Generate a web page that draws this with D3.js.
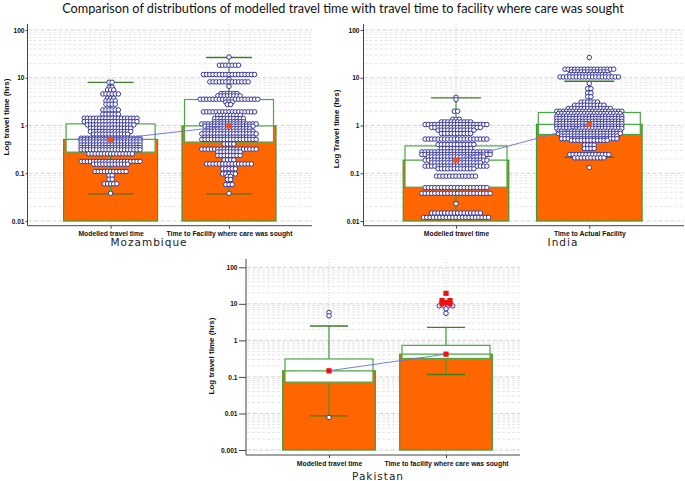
<!DOCTYPE html>
<html><head><meta charset="utf-8">
<script src="https://cdn.jsdelivr.net/npm/d3@7"></script>
<style>body{margin:0;background:#fff}svg{display:block}</style>
</head><body><svg id="c" width="685" height="481"></svg>
<script>
// ---------------- DATA ----------------
const chartTitle = "Comparison of distributions of modelled travel time with travel time to facility where care was sought";
const panelNames = ["Mozambique", "India", "Pakistan"];
const yAxisLabels = ["Log travel time (hrs)", "Log Travel time (hrs)", "Log travel time (hrs)"];

const mozCategories = ["Modelled travel time", "Time to Facility where care was sought"];
const indiaCategories = ["Modelled travel time", "Time to Actual Facility"];
const pakCategories = ["Modelled travel time", "Time to facility where care was sought"];

const mozTicks = [0.01, 0.1, 1, 10, 100];
const mozTickLabels = ["0.01", "0.1", "1", "10", "100"];
const indiaTicks = [0.01, 0.1, 1, 10, 100];
const indiaTickLabels = ["0.01", "0.1", "1", "10", "100"];
const pakTicks = [0.001, 0.01, 0.1, 1, 10, 100];
const pakTickLabels = ["0.001", "0.01", "0.1", "1", "10", "100"];

// summary statistics per category (hrs)
const mozMean = [0.51, 0.98];
const mozQ1 = [0.277, 0.45];
const mozQ3 = [1.08, 3.5];
const mozWhiskerLow = [0.037, 0.037];
const mozWhiskerHigh = [8.0, 26.5];

const indiaMean = [0.188, 1.06];
const indiaQ1 = [0.051, 0.65];
const indiaQ3 = [0.374, 1.87];
const indiaWhiskerLow = [0.0117, 0.217];
const indiaWhiskerHigh = [3.78, 8.45];

const pakMean = [0.147, 0.42];
const pakQ1 = [0.072, 0.32];
const pakQ3 = [0.31, 0.73];
const pakWhiskerLow = [0.0086, 0.117];
const pakWhiskerHigh = [2.47, 2.27];

// individual observations: [value (hrs), number of dots at that level]
const mozModelledDots = [[8.05,2],[6.3,2],[5.56,3],[4.58,6],[3.72,3],[3.27,4],[2.79,4],[2.12,6],[1.72,6],[1.42,18],[1.21,18],[1.03,16],[0.878,14],[0.749,14],[0.658,12],[0.542,20],[0.50,20],[0.45,20],[0.39,20],[0.345,20],[0.31,20],[0.255,15],[0.177,20],[0.155,12],[0.109,11],[0.09,2],[0.075,2],[0.06,5],[0.038,1]];
const mozActualDots = [[27.2,1],[18.3,7],[11.7,17],[9.3,1],[8.2,13],[6.6,1],[4.67,6],[4.17,8],[3.55,19],[3.1,3],[2.75,2],[1.93,17],[1.64,8],[1.40,10],[1.2,10],[1.08,18],[0.97,16],[0.86,14],[0.76,16],[0.67,18],[0.57,16],[0.51,18],[0.41,4],[0.32,18],[0.28,8],[0.235,8],[0.19,4],[0.157,15],[0.124,5],[0.097,5],[0.086,2],[0.074,2],[0.058,3],[0.038,1]];
const indiaModelledDots = [[3.9,1],[3.5,1],[1.99,2],[1.35,3],[1.19,10],[1.05,20],[0.91,16],[0.80,12],[0.68,10],[0.52,20],[0.40,12],[0.33,10],[0.28,22],[0.247,22],[0.22,18],[0.188,20],[0.165,16],[0.141,20],[0.124,12],[0.087,13],[0.05,20],[0.038,22],[0.023,1],[0.0147,16],[0.0119,21]];
const indiaActualDots = [[26.5,1],[15.1,16],[13.2,12],[11.7,13],[10.4,19],[7.6,1],[5.9,2],[4.8,2],[4.0,2],[3.1,6],[2.66,10],[2.27,14],[1.99,21],[1.78,20],[1.57,21],[1.40,21],[1.23,21],[1.10,21],[0.97,21],[0.87,21],[0.76,20],[0.68,20],[0.60,18],[0.53,18],[0.49,12],[0.39,4],[0.33,4],[0.247,13],[0.21,10],[0.132,1]];
const pakModelledOutliers = [[5.8,1],[4.7,1],[0.0078,1]];
const pakActualOutliers = [[8.8,4],[7.3,1],[5.5,1]];
const pakActualFarOutliers = [[19.4,1],[12.3,2],[10.9,1],[10.0,2]];

// ---------------- DRAWING ----------------
const svg = d3.select("#c");
const ORANGE = "#ff6600", GREEN = "#3f9a35", BOXGREEN = "#4aa843", CAPGREEN = "#3a7f22";
const DOT_STROKE = "#34349c";
const SANS = "'Liberation Sans', Arial, sans-serif";

function fitTitle() {
  const t = svg.append("text").attr("x", 343).attr("y", 12.5).attr("text-anchor", "middle")
    .attr("font-family", "Lato, 'Open Sans', sans-serif").attr("font-size", 13).attr("fill", "#111").text(chartTitle);
  const w = t.node().getComputedTextLength();
  t.attr("font-size", 13 * 562 / w);
}
fitTitle();

function drawPanel(p) {
  const y = d3.scaleLog().domain(p.domain).range(p.yRange);
  const x = d3.scalePoint().domain(p.categories).range(p.xRange);
  const g = svg.append("g");

  // horizontal grid lines (major + minor log levels)
  const grid = [];
  const e0 = Math.round(Math.log10(p.domain[0])), e1 = Math.round(Math.log10(p.domain[1]));
  for (let e = e0; e <= e1; e++) for (let m = 1; m <= 9; m++) {
    const v = m * Math.pow(10, e);
    if (v <= p.domain[1] * 1.0001) grid.push({ v, major: m === 1 });
  }
  g.selectAll("line.grid").data(grid).join("line")
    .attr("x1", p.x0 + 1).attr("x2", p.x1)
    .attr("y1", d => y(d.v)).attr("y2", d => y(d.v))
    .attr("stroke", d => d.major ? "#c8c8c8" : "#e0e0e0")
    .attr("stroke-width", 0.8)
    .attr("stroke-dasharray", d => d.major ? "4,2" : "3,2");
  // vertical dotted lines at categories
  g.selectAll("line.vgrid").data(p.categories).join("line")
    .attr("x1", d => x(d)).attr("x2", d => x(d))
    .attr("y1", p.yTop).attr("y2", p.xAxisY)
    .attr("stroke", "#c8c8c8").attr("stroke-width", 0.8).attr("stroke-dasharray", "1,2");

  const idx = p.categories.map((c, i) => i);
  const bottom = y(p.domain[0]);
  // bars (mean)
  g.selectAll("rect.bar").data(idx).join("rect")
    .attr("x", i => x(p.categories[i]) - p.barW / 2).attr("width", p.barW)
    .attr("y", i => y(p.mean[i])).attr("height", i => bottom - y(p.mean[i]))
    .attr("fill", ORANGE).attr("stroke", GREEN).attr("stroke-width", 1.2);
  // whiskers
  g.selectAll("line.wu").data(idx).join("line")
    .attr("x1", i => x(p.categories[i])).attr("x2", i => x(p.categories[i]))
    .attr("y1", i => y(p.q3[i])).attr("y2", i => y(p.hi[i]))
    .attr("stroke", GREEN).attr("stroke-width", 1.2);
  g.selectAll("line.wl").data(idx).join("line")
    .attr("x1", i => x(p.categories[i])).attr("x2", i => x(p.categories[i]))
    .attr("y1", i => y(p.q1[i])).attr("y2", i => y(p.lo[i]))
    .attr("stroke", GREEN).attr("stroke-width", 1.2);
  // boxes
  g.selectAll("rect.box").data(idx).join("rect")
    .attr("x", i => x(p.categories[i]) - p.boxW / 2).attr("width", p.boxW)
    .attr("y", i => y(p.q3[i])).attr("height", i => y(p.q1[i]) - y(p.q3[i]))
    .attr("fill", "#fff").attr("stroke", BOXGREEN).attr("stroke-width", 1.2);
  g.selectAll("line.mid").data(idx).join("line")
    .attr("x1", i => x(p.categories[i]) - p.boxW / 2).attr("x2", i => x(p.categories[i]) + p.boxW / 2)
    .attr("y1", i => y(p.mean[i])).attr("y2", i => y(p.mean[i]))
    .attr("stroke", BOXGREEN).attr("stroke-width", 1.2);
  // caps
  ["hi", "lo"].forEach(k => {
    g.selectAll("line.cap" + k).data(idx).join("line")
      .attr("x1", i => x(p.categories[i]) - p.capW / 2).attr("x2", i => x(p.categories[i]) + p.capW / 2)
      .attr("y1", i => y(p[k][i])).attr("y2", i => y(p[k][i]))
      .attr("stroke", CAPGREEN).attr("stroke-width", 1.4);
  });

  // dots
  const dots = [];
  p.dotSets.forEach(ds => {
    const cx = x(p.categories[ds.cat]);
    ds.rows.forEach(([v, n]) => {
      for (let k = 0; k < n; k++) dots.push({ x: cx + (k - (n - 1) / 2) * ds.sp, v, shape: ds.shape });
    });
  });
  g.selectAll("circle.dot").data(dots.filter(d => d.shape === "circle")).join("circle")
    .attr("cx", d => d.x).attr("cy", d => y(d.v)).attr("r", 2.25)
    .attr("fill", "#fff").attr("stroke", DOT_STROKE).attr("stroke-width", 1);

  // mean line
  g.append("line")
    .attr("x1", x(p.categories[0])).attr("y1", y(p.mean[0]))
    .attr("x2", x(p.categories[1])).attr("y2", y(p.mean[1]))
    .attr("stroke", "#6d6dd8").attr("stroke-width", 0.9);
  // far outliers (squares)
  g.selectAll("rect.far").data(dots.filter(d => d.shape === "square")).join("rect")
    .attr("x", d => d.x - 2.6).attr("y", d => y(d.v) - 2.6).attr("width", 5.2).attr("height", 5.2)
    .attr("fill", "#f01010");
  // mean markers
  g.selectAll("rect.meanpt").data(idx).join("rect")
    .attr("x", i => x(p.categories[i]) - 2.6).attr("y", i => y(p.mean[i]) - 2.6)
    .attr("width", 5.2).attr("height", 5.2).attr("fill", p.meanColor);

  // axes
  g.append("line").attr("x1", p.x0).attr("x2", p.x0).attr("y1", p.yTop).attr("y2", p.xAxisY)
    .attr("stroke", "#444").attr("stroke-width", 1);
  g.append("line").attr("x1", p.x0).attr("x2", p.x1).attr("y1", p.xAxisY).attr("y2", p.xAxisY)
    .attr("stroke", "#444").attr("stroke-width", 1);
  const ya = d3.axisLeft(y).tickValues(p.ticks).tickFormat((d, i) => p.tickLabels[i])
    .tickSize(p.tickLen).tickPadding(p.tickPad);
  const yg = g.append("g").attr("transform", `translate(${p.x0},0)`).call(ya);
  yg.select(".domain").remove();
  yg.selectAll(".tick line").attr("stroke", "#444");
  yg.selectAll(".tick text").attr("font-family", SANS)
    .attr("font-size", 6.6).attr("font-weight", "bold").attr("fill", "#111");
  const xa = d3.axisBottom(x).tickSize(3).tickPadding(p.catPad);
  const xg = g.append("g").attr("transform", `translate(0,${p.xAxisY})`).call(xa);
  xg.select(".domain").remove();
  xg.selectAll(".tick line").attr("stroke", "#444");
  xg.selectAll(".tick text").attr("font-family", SANS)
    .attr("font-size", 6.8).attr("font-weight", "bold").attr("fill", "#111");

  // labels
  g.append("text").attr("transform", `translate(${p.yLabelX},${p.yLabelY}) rotate(-90)`)
    .attr("text-anchor", "middle").attr("font-family", SANS)
    .attr("font-size", 8).attr("font-weight", "bold").attr("fill", "#111").text(p.yLabel);
  g.append("text").attr("x", p.nameX).attr("y", p.nameY).attr("text-anchor", "middle")
    .attr("font-family", "'DejaVu Sans', Verdana, sans-serif").attr("font-size", 10.5)
    .attr("letter-spacing", 1).attr("fill", "#222").text(p.name);
}

drawPanel({
  name: panelNames[0], yLabel: yAxisLabels[0], categories: mozCategories,
  ticks: mozTicks, tickLabels: mozTickLabels,
  mean: mozMean, q1: mozQ1, q3: mozQ3, lo: mozWhiskerLow, hi: mozWhiskerHigh,
  dotSets: [{ cat: 0, rows: mozModelledDots, sp: 3.1, shape: "circle" }, { cat: 1, rows: mozActualDots, sp: 3.2, shape: "circle" }],
  domain: [0.01, 100], yRange: [221, 30], xRange: [110.6, 229],
  x0: 27.5, x1: 312, yTop: 24, xAxisY: 225.7,
  barW: 94, boxW: 89, capW: 46, tickLen: 2, tickPad: 1, catPad: 2.5,
  meanColor: "#f0521a",
  yLabelX: 8.5, yLabelY: 117, nameX: 149, nameY: 246
});
drawPanel({
  name: panelNames[1], yLabel: yAxisLabels[1], categories: indiaCategories,
  ticks: indiaTicks, tickLabels: indiaTickLabels,
  mean: indiaMean, q1: indiaQ1, q3: indiaQ3, lo: indiaWhiskerLow, hi: indiaWhiskerHigh,
  dotSets: [{ cat: 0, rows: indiaModelledDots, sp: 3.25, shape: "circle" }, { cat: 1, rows: indiaActualDots, sp: 3.25, shape: "circle" }],
  domain: [0.01, 100], yRange: [221, 30], xRange: [456, 589.3],
  x0: 363.5, x1: 684, yTop: 24, xAxisY: 225.7,
  barW: 105.6, boxW: 102, capW: 50, tickLen: 3, tickPad: 1, catPad: 2.5,
  meanColor: "#f0521a",
  yLabelX: 338.5, yLabelY: 129, nameX: 563, nameY: 246
});
drawPanel({
  name: panelNames[2], yLabel: yAxisLabels[2], categories: pakCategories,
  ticks: pakTicks, tickLabels: pakTickLabels,
  mean: pakMean, q1: pakQ1, q3: pakQ3, lo: pakWhiskerLow, hi: pakWhiskerHigh,
  dotSets: [{ cat: 0, rows: pakModelledOutliers, sp: 4.5, shape: "circle" },
            { cat: 1, rows: pakActualOutliers, sp: 4.5, shape: "circle" },
            { cat: 1, rows: pakActualFarOutliers, sp: 8, shape: "square" }],
  domain: [0.001, 100], yRange: [450, 267.3], xRange: [329, 446],
  x0: 246, x1: 520, yTop: 259, xAxisY: 455,
  barW: 92.6, boxW: 88, capW: 38, tickLen: 7, tickPad: 1.5, catPad: 3,
  meanColor: "#ee1111",
  yLabelX: 214, yLabelY: 356, nameX: 378, nameY: 479.5
});
</script></body></html>
